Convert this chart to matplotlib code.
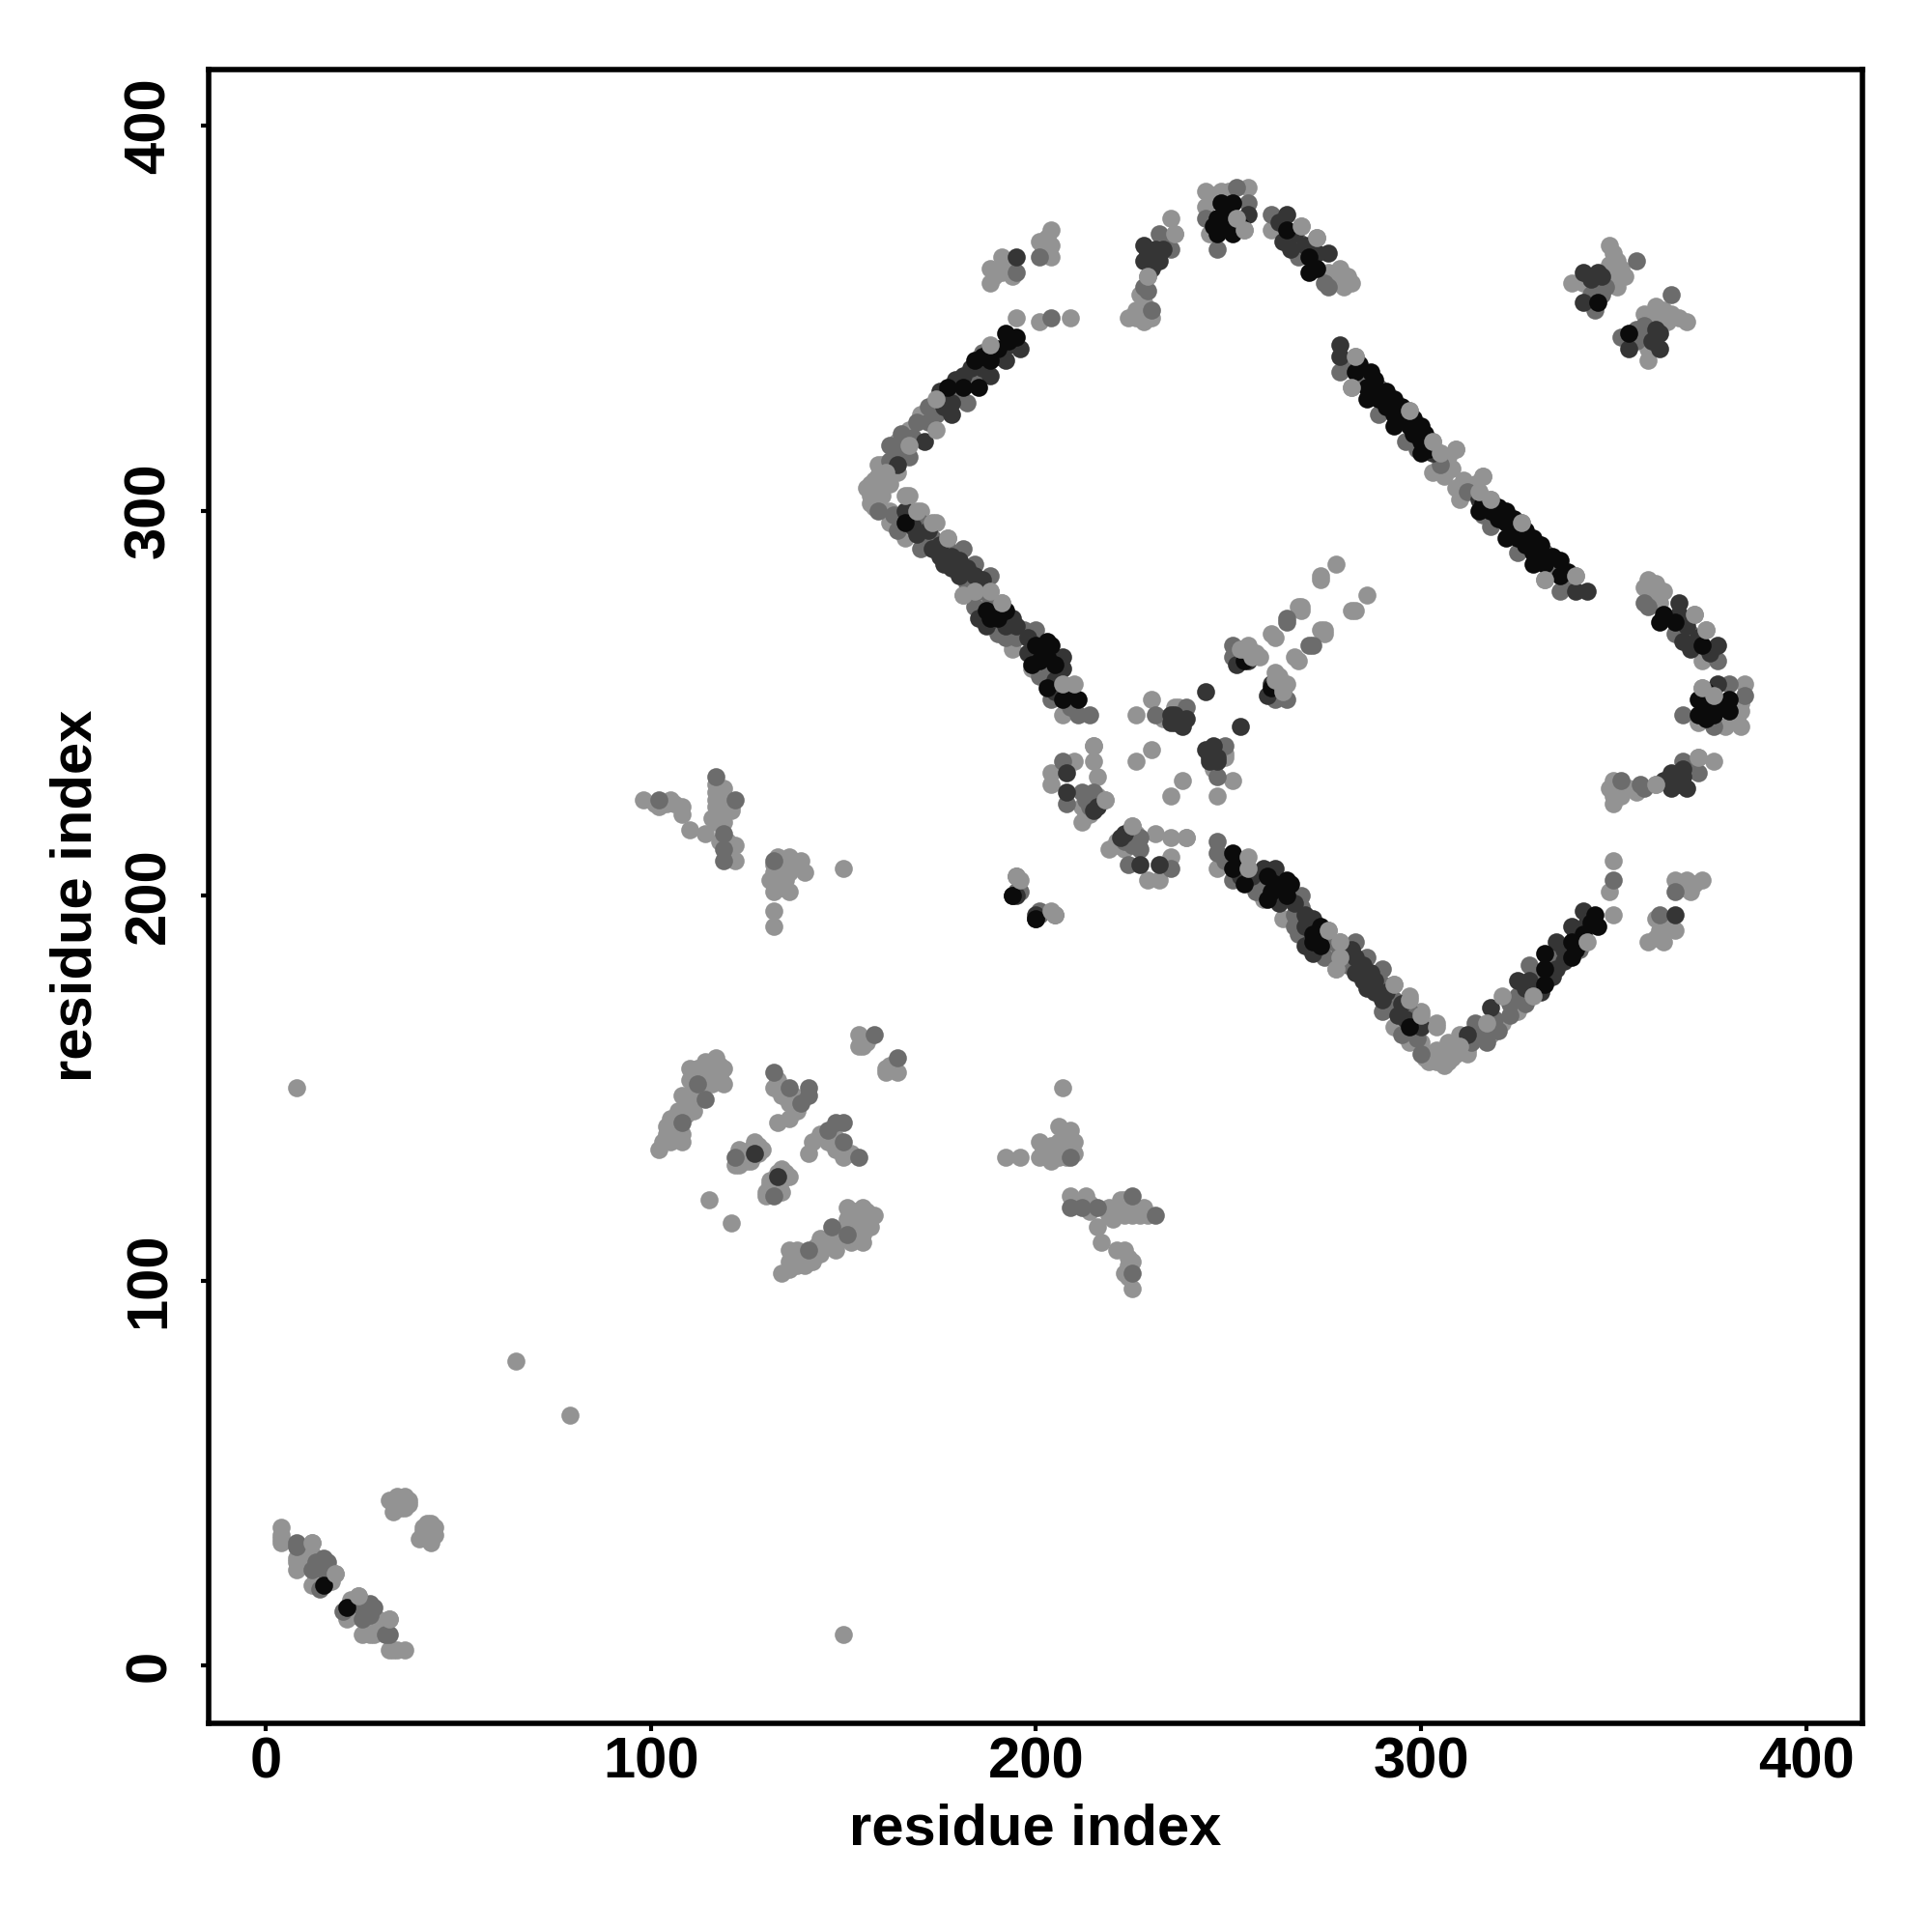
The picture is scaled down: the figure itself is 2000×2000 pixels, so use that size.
# contact map: residue index vs residue index
import numpy as np
import matplotlib
matplotlib.use('Agg')
import matplotlib.pyplot as plt

plt.rcParams['font.family'] = ['Liberation Sans', 'DejaVu Sans']

# Contacts, one half only (x < y): the map is symmetric
light_pts = [
    (4,36),(4,32),(4,34),(4,33),(12,32),(8,27),(8,25),(8,28),(12,29),(18,24),(12,21),(10,28),(11,26),
    (13,23),(14,23),(9,30),(16,23),(17,22),
    (32,43),(34,44),(36,44),(33,40),(35,41),(37,43),(34,42),(33,42),(34,41),(35,43),(36,42),(37,42),(36,41),
    (8,150),(65,79),
    (98,225),(105,225),(102,223),(108,223),(108,221),(110,217),(114,216),(117,227),(119,228),
    (121,223),(117,223),(116,220),(119,219),(122,213),(122,209),(103,224),(104,224),(106,224),(101,224),
    (118,225),(119,223),(117,225),(120,225),(121,222),(119,221),(117,219),(118,214),(120,214),(117,229),(119,226),
    (136,210),(132,206),(140,206),(136,206),(132,201),(136,201),(132,196),(132,192),(150,207),
    (134,207),(133,204),(134,202),(132,203),(135,204),(137,209),(133,210),(139,209),(132,208),(131,204),
    (117,158),(119,155),(110,155),(115,156),(110,152),(116,151),(119,151),(108,148),(111,147),
    (105,142),(111,144),(104,138),(108,138),(105,136),(102,134),(113,153),(116,154),(118,153),
    (112,155),(114,157),(116,156),(112,153),(114,152),(117,153),(118,156),(111,150),(113,149),
    (109,146),(112,148),(107,144),(109,143),(106,140),(108,136),(103,136),(106,138),(104,140),
    (132,150),(136,146),(136,142),(133,141),(133,152),(134,148),(137,148),(137,146),(138,144),
    (122,130),(124,132),(127,136),(128,135),(123,134),(126,134),(125,131),(123,130),(128,133),(126,131),(129,134),
    (115,121),(154,164),(154,161),(155,161),(155,163),(156,162),
    (188,359),(188,363),(191,366),(191,362),(204,373),(201,370),(204,369),(204,366),(193,364),(190,362),(194,361),
    (189,361),(202,368),(203,371),(192,363),
    (201,349),(209,350),(224,350),(226,350),(230,350),(228,349),(227,356),(229,361),(229,352),(226,352),(228,354),
    (235,376),(236,372),(244,383),(244,379),(248,383),(255,384),(254,373),(245,372),(252,376),(246,382),(250,383),
    (261,373),(269,374),(273,371),(279,363),(279,360),(282,359),(276,362),(277,359),(280,358),(281,361),(278,362),
    (349,369),(351,365),(353,361),(339,359),(342,359),(351,358),(350,367),(349,364),(352,363),(350,361),
    (283,340),(282,332),(297,326),(303,318),(305,315),(309,316),(303,310),(306,309),(307,314),(306,312),(308,311),
    (170,325),(167,321),(164,318),(160,312),(164,310),(159,309),(159,306),(162,307),(159,303),
    (161,308),(158,305),(160,304),(157,307),(157,304),(157,302),(158,308),(160,310),(159,312),(161,312),(156,306),(158,301),
    (167,304),(162,300),(170,300),(162,297),(174,297),(166,293),(177,293),(181,278),(184,279),
    (188,279),(191,276),(194,264),(199,259),(207,247),(215,239),(215,235),(210,235),(204,232),
    (216,231),(204,229),(218,225),(212,223),(212,219),(213,221),(214,221),(216,226),
    (226,247),(230,251),(236,249),(226,235),(230,238),(261,268),(268,275),(274,282),(278,286),
    (274,283),(256,263),(255,264),(262,256),(264,254),(267,262),(274,269),(269,275),(262,258),(263,257),(265,255),
    (253,264),(254,262),(233,246),(237,249),
]
mid_pts = [
    (8,32),(8,31),(12,25),(15,28),(15,25),(14,20),(24,16),(13,27),(16,27),(102,225),(117,231),(122,225),(119,216),
    (119,212),(119,209),(132,209),(112,151),(114,147),(108,141),(132,154),(136,150),(141,150),
    (139,146),(122,132),(158,164),(195,205),(195,201),(201,196),(141,148),
    (195,362),(201,366),(204,350),(230,352),(229,357),(232,372),(235,368),(247,368),(252,384),(234,370),(233,368),(228,358),
    (255,380),(244,376),(261,377),(268,370),(268,366),(275,359),(356,365),(346,359),(345,352),(344,356),(348,358),(347,356),(345,357),
    (279,336),(289,332),(289,325),(296,318),(305,312),(281,338),(285,334),(299,316),(276,358),
    (185,335),(182,328),(174,325),(167,314),(164,315),(159,300),(170,297),(170,290),(173,293),
    (177,290),(181,290),(184,286),(188,283),(184,275),(190,268),(197,269),(200,269),(204,259),
    (207,255),(204,251),(211,247),(214,247),(207,235),(212,227),(215,227),(208,224),(214,224),(213,225),(216,224),(214,223),
    (231,247),(239,249),(238,247),(251,265),(251,262),(261,252),(265,272),(271,265),(252,261),(253,262),(263,253),(264,252),
    (193,343),(186,341),(183,333),(179,330),(172,327),(172,323),(169,323),(168,319),(165,320),(165,316),(162,317),(162,313),
    (163,299),(167,298),(164,295),(172,291),(182,281),(186,279),(188,276),(192,267),(195,267),(201,257),(209,249),
]
dark_pts = [
    (196,342),(192,339),(188,335),(181,335),(178,328),(178,325),(171,318),(164,312),(166,300),
    (169,294),(173,290),(176,286),(180,287),(180,283),(184,283),(187,270),(194,272),(207,262),
    (207,259),(208,232),(208,227),(215,222),(216,223),
    (195,366),(193,343),(190,340),(186,337),(183,337),(179,334),(175,331),(176,327),(168,296),(172,295),
    (175,291),(175,288),(178,288),(178,285),(182,285),(186,282),(185,272),(192,270),(195,270),(198,267),(198,263),(201,264),(205,256),(205,253),
    (228,369),(228,365),(232,365),(231,368),(255,377),(265,377),(264,370),(276,367),(230,366),(230,363),(229,367),(263,375),(267,372),(266,368),(270,369),(273,367),
    (346,362),(342,362),(342,354),(344,360),(347,361),(127,133),(200,194),(200,195),
    (279,343),(279,340),(303,315),(235,247),(238,244),(244,253),(255,261),(236,247),(238,245),(236,245),(239,246),(235,245),
    (260,252),(262,254),(233,368),
]
black_pts = [
    (195,345),(192,346),(188,342),(184,339),(188,339),(185,332),(181,332),(177,332),(166,297),(190,342),(186,340),(193,344),
    (187,274),(190,272),(203,266),(204,265),(200,265),(203,262),(199,260),(203,254),(207,251),(192,274),(188,272),(201,261),(205,260),(209,253),
    (211,251),(251,380),(248,380),(247,376),(251,372),(247,372),(265,373),(271,366),(271,362),(250,377),(249,374),(253,374),(246,374),(273,363),
    (346,354),(283,336),(287,336),(286,332),(286,329),(289,329),(293,329),(293,325),(293,322),(284,338),(288,334),(287,331),(291,331),(291,327),(295,327),(295,324),
    (297,322),(300,322),(300,318),(300,315),(261,254),(194,200),(15,21),(298,324),(298,320),(301,320),(302,316),
]
top_pts = [
    (195,350),(188,343),(174,321),(167,317),(210,255),(174,329),(184,279),(188,279),(191,276),
    (305,315),(309,316),(303,318),(283,340),(218,225),(215,239),(229,361),(236,372),(195,205),
    (204,196),(18,24),(32,12),(252,376),(254,373),(269,374),(273,371),(264,254),(262,256),
    (253,264),(256,263),(160,306),(159,309),(157,305),(161,310),(166,304),(169,300),(173,297),
    (282,332),(297,326),(177,293),(181,278),(207,255),
]

shades = [
    (light_pts, '#939393'),
    (mid_pts, '#6c6c6c'),
    (dark_pts, '#353535'),
    (black_pts, '#0b0b0b'),
    (top_pts, '#939393'),
]

fig = plt.figure(figsize=(10, 10), dpi=200)
ax = fig.add_axes([216/2000, 216/2000, 1712/2000, 1712.5/2000])

for pts, col in shades:
    pts = np.array(pts)
    # symmetric contact map, so plot (i, j) and (j, i)
    ax.scatter(np.r_[pts[:, 0], pts[:, 1]], np.r_[pts[:, 1], pts[:, 0]],
               s=45, c=col, linewidths=0, zorder=3)

ax.set_xlim(-14.8, 414.6)
ax.set_ylim(-15, 414.7)
ticks = [0, 100, 200, 300, 400]
ax.set_xticks(ticks)
ax.set_yticks(ticks)
ax.tick_params(axis='x', length=3, width=1.5, pad=2, labelsize=21.5)
ax.tick_params(axis='y', length=3, width=1.5, pad=9, labelsize=21.5)
for lab in ax.get_xticklabels() + ax.get_yticklabels():
    lab.set_fontweight('bold')
for lab in ax.get_yticklabels():
    lab.set_rotation(90)
    lab.set_va('center')
for sp in ax.spines.values():
    sp.set_linewidth(2)

ax.set_xlabel('residue index', fontsize=21.5, fontweight='bold')
ax.set_ylabel('residue index', fontsize=21.5, fontweight='bold')
ax.xaxis.set_label_coords(0.5, -110/1712, transform=ax.transAxes)
ax.yaxis.set_label_coords(-137/1714, 0.5, transform=ax.transAxes)
ax.xaxis.label.set_va('center')
ax.yaxis.label.set_va('center')

fig.savefig('out.png', dpi=200)
